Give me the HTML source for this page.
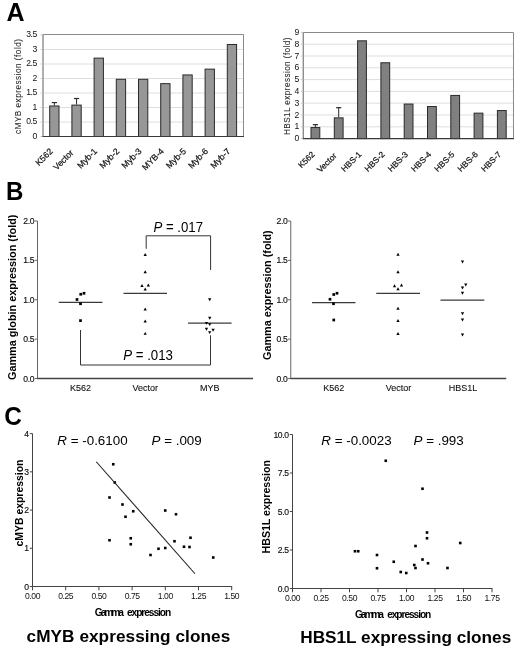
<!DOCTYPE html>
<html><head><meta charset="utf-8"><style>
html,body{margin:0;padding:0;background:#fff;}
body{width:520px;height:648px;overflow:hidden;}
svg{display:block;font-family:"Liberation Sans", sans-serif;filter:grayscale(100%);}
</style></head><body>
<svg width="520" height="648" viewBox="0 0 520 648">
<rect x="0" y="0" width="520" height="648" fill="#fff"/>
<text x="6.6" y="21.3" font-size="25" text-anchor="start" font-weight="bold" fill="#000">A</text>
<text x="5.9" y="199.5" font-size="25.8" text-anchor="start" font-weight="bold" fill="#000" textLength="17.4" lengthAdjust="spacingAndGlyphs">B</text>
<text x="4.2" y="424.5" font-size="26.2" text-anchor="start" font-weight="bold" fill="#000" textLength="17.6" lengthAdjust="spacingAndGlyphs">C</text>
<line x1="43" y1="122.0" x2="243.5" y2="122.0" stroke="#dedede" stroke-width="1"/>
<line x1="43" y1="107.5" x2="243.5" y2="107.5" stroke="#dedede" stroke-width="1"/>
<line x1="43" y1="93.0" x2="243.5" y2="93.0" stroke="#dedede" stroke-width="1"/>
<line x1="43" y1="78.5" x2="243.5" y2="78.5" stroke="#dedede" stroke-width="1"/>
<line x1="43" y1="64.0" x2="243.5" y2="64.0" stroke="#dedede" stroke-width="1"/>
<line x1="43" y1="49.5" x2="243.5" y2="49.5" stroke="#dedede" stroke-width="1"/>
<path d="M243.5 136.5 V34.5 H43" fill="none" stroke="#8a8a8a" stroke-width="1"/>
<line x1="43" y1="136.5" x2="43" y2="34.0" stroke="#8c8c8c" stroke-width="1.4"/>
<line x1="40.5" y1="136.5" x2="43" y2="136.5" stroke="#c8c8c8" stroke-width="1"/>
<line x1="40.5" y1="122.0" x2="43" y2="122.0" stroke="#c8c8c8" stroke-width="1"/>
<line x1="40.5" y1="107.5" x2="43" y2="107.5" stroke="#c8c8c8" stroke-width="1"/>
<line x1="40.5" y1="93.0" x2="43" y2="93.0" stroke="#c8c8c8" stroke-width="1"/>
<line x1="40.5" y1="78.5" x2="43" y2="78.5" stroke="#c8c8c8" stroke-width="1"/>
<line x1="40.5" y1="64.0" x2="43" y2="64.0" stroke="#c8c8c8" stroke-width="1"/>
<line x1="40.5" y1="49.5" x2="43" y2="49.5" stroke="#c8c8c8" stroke-width="1"/>
<line x1="40.5" y1="35.0" x2="43" y2="35.0" stroke="#c8c8c8" stroke-width="1"/>
<rect x="49.7" y="105.97" width="9.3" height="30.53" fill="#979797" stroke="#2a2a2a" stroke-width="1"/>
<rect x="71.9" y="105.1" width="9.3" height="31.4" fill="#979797" stroke="#2a2a2a" stroke-width="1"/>
<rect x="94.1" y="58.12" width="9.3" height="78.38" fill="#979797" stroke="#2a2a2a" stroke-width="1"/>
<rect x="116.3" y="79.29" width="9.3" height="57.21" fill="#979797" stroke="#2a2a2a" stroke-width="1"/>
<rect x="138.5" y="79.29" width="9.3" height="57.21" fill="#979797" stroke="#2a2a2a" stroke-width="1"/>
<rect x="160.7" y="83.64" width="9.3" height="52.86" fill="#979797" stroke="#2a2a2a" stroke-width="1"/>
<rect x="182.9" y="74.94" width="9.3" height="61.56" fill="#979797" stroke="#2a2a2a" stroke-width="1"/>
<rect x="205.1" y="69.14" width="9.3" height="67.36" fill="#979797" stroke="#2a2a2a" stroke-width="1"/>
<rect x="227.3" y="44.49" width="9.3" height="92.01" fill="#979797" stroke="#2a2a2a" stroke-width="1"/>
<line x1="54.35" y1="105.47" x2="54.35" y2="102.57" stroke="#2a2a2a" stroke-width="1"/>
<line x1="51.75" y1="102.57" x2="56.95" y2="102.57" stroke="#2a2a2a" stroke-width="1.2"/>
<line x1="76.55" y1="104.6" x2="76.55" y2="98.51" stroke="#2a2a2a" stroke-width="1"/>
<line x1="73.95" y1="98.51" x2="79.14999999999999" y2="98.51" stroke="#2a2a2a" stroke-width="1.2"/>
<line x1="42.5" y1="136.5" x2="244.0" y2="136.5" stroke="#3a3a3a" stroke-width="1.2"/>
<text x="37.3" y="138.7" font-size="8.6" text-anchor="end" font-weight="normal" fill="#111">0</text>
<text x="36.9" y="124.2" font-size="8.6" text-anchor="end" font-weight="normal" fill="#111" letter-spacing="-0.45">0.5</text>
<text x="37.3" y="109.7" font-size="8.6" text-anchor="end" font-weight="normal" fill="#111">1</text>
<text x="36.9" y="95.2" font-size="8.6" text-anchor="end" font-weight="normal" fill="#111" letter-spacing="-0.45">1.5</text>
<text x="37.3" y="80.7" font-size="8.6" text-anchor="end" font-weight="normal" fill="#111">2</text>
<text x="36.9" y="66.2" font-size="8.6" text-anchor="end" font-weight="normal" fill="#111" letter-spacing="-0.45">2.5</text>
<text x="37.3" y="51.7" font-size="8.6" text-anchor="end" font-weight="normal" fill="#111">3</text>
<text x="36.9" y="37.2" font-size="8.6" text-anchor="end" font-weight="normal" fill="#111" letter-spacing="-0.45">3.5</text>
<text transform="translate(53.35,151.90) rotate(-45)" font-size="8.7" text-anchor="end" fill="#111" stroke="#111" stroke-width="0.22">K562</text>
<text transform="translate(74.05,153.40) rotate(-45)" font-size="8.7" text-anchor="end" fill="#111" stroke="#111" stroke-width="0.22">Vector</text>
<text transform="translate(97.75,151.90) rotate(-45)" font-size="8.7" text-anchor="end" fill="#111" stroke="#111" stroke-width="0.22">Myb-1</text>
<text transform="translate(119.95,151.90) rotate(-45)" font-size="8.7" text-anchor="end" fill="#111" stroke="#111" stroke-width="0.22">Myb-2</text>
<text transform="translate(142.15,151.90) rotate(-45)" font-size="8.7" text-anchor="end" fill="#111" stroke="#111" stroke-width="0.22">Myb-3</text>
<text transform="translate(164.35,151.90) rotate(-45)" font-size="8.7" text-anchor="end" fill="#111" stroke="#111" stroke-width="0.22">MYB-4</text>
<text transform="translate(186.55,151.90) rotate(-45)" font-size="8.7" text-anchor="end" fill="#111" stroke="#111" stroke-width="0.22">Myb-5</text>
<text transform="translate(208.75,151.90) rotate(-45)" font-size="8.7" text-anchor="end" fill="#111" stroke="#111" stroke-width="0.22">Myb-6</text>
<text transform="translate(230.95,151.90) rotate(-45)" font-size="8.7" text-anchor="end" fill="#111" stroke="#111" stroke-width="0.22">Myb-7</text>
<text transform="translate(20.8,134) rotate(-90)" x="0" y="0" font-size="8.2" text-anchor="start" font-weight="normal" fill="#222" textLength="95" lengthAdjust="spacing" stroke="#222" stroke-width="0.05">cMYB expression (fold)</text>
<line x1="303.3" y1="126.8" x2="513.5" y2="126.8" stroke="#dedede" stroke-width="1"/>
<line x1="303.3" y1="115.0" x2="513.5" y2="115.0" stroke="#dedede" stroke-width="1"/>
<line x1="303.3" y1="103.2" x2="513.5" y2="103.2" stroke="#dedede" stroke-width="1"/>
<line x1="303.3" y1="91.4" x2="513.5" y2="91.4" stroke="#dedede" stroke-width="1"/>
<line x1="303.3" y1="79.6" x2="513.5" y2="79.6" stroke="#dedede" stroke-width="1"/>
<line x1="303.3" y1="67.8" x2="513.5" y2="67.8" stroke="#dedede" stroke-width="1"/>
<line x1="303.3" y1="56.0" x2="513.5" y2="56.0" stroke="#dedede" stroke-width="1"/>
<line x1="303.3" y1="44.2" x2="513.5" y2="44.2" stroke="#dedede" stroke-width="1"/>
<path d="M513.5 138.6 V32.5 H303.3" fill="none" stroke="#8a8a8a" stroke-width="1"/>
<line x1="303.3" y1="138.6" x2="303.3" y2="32.0" stroke="#8c8c8c" stroke-width="1.4"/>
<line x1="300.8" y1="138.6" x2="303.3" y2="138.6" stroke="#c8c8c8" stroke-width="1"/>
<line x1="300.8" y1="126.8" x2="303.3" y2="126.8" stroke="#c8c8c8" stroke-width="1"/>
<line x1="300.8" y1="115.0" x2="303.3" y2="115.0" stroke="#c8c8c8" stroke-width="1"/>
<line x1="300.8" y1="103.2" x2="303.3" y2="103.2" stroke="#c8c8c8" stroke-width="1"/>
<line x1="300.8" y1="91.4" x2="303.3" y2="91.4" stroke="#c8c8c8" stroke-width="1"/>
<line x1="300.8" y1="79.6" x2="303.3" y2="79.6" stroke="#c8c8c8" stroke-width="1"/>
<line x1="300.8" y1="67.8" x2="303.3" y2="67.8" stroke="#c8c8c8" stroke-width="1"/>
<line x1="300.8" y1="56.0" x2="303.3" y2="56.0" stroke="#c8c8c8" stroke-width="1"/>
<line x1="300.8" y1="44.2" x2="303.3" y2="44.2" stroke="#c8c8c8" stroke-width="1"/>
<line x1="300.8" y1="32.4" x2="303.3" y2="32.4" stroke="#c8c8c8" stroke-width="1"/>
<rect x="311.0" y="127.54" width="8.8" height="11.06" fill="#808080" stroke="#2a2a2a" stroke-width="1"/>
<rect x="334.3" y="117.86" width="8.8" height="20.74" fill="#808080" stroke="#2a2a2a" stroke-width="1"/>
<rect x="357.6" y="40.81" width="8.8" height="97.79" fill="#808080" stroke="#2a2a2a" stroke-width="1"/>
<rect x="380.9" y="62.75" width="8.8" height="75.85" fill="#808080" stroke="#2a2a2a" stroke-width="1"/>
<rect x="404.2" y="104.05" width="8.8" height="34.55" fill="#808080" stroke="#2a2a2a" stroke-width="1"/>
<rect x="427.5" y="106.53" width="8.8" height="32.07" fill="#808080" stroke="#2a2a2a" stroke-width="1"/>
<rect x="450.8" y="95.44" width="8.8" height="43.16" fill="#808080" stroke="#2a2a2a" stroke-width="1"/>
<rect x="474.1" y="113.14" width="8.8" height="25.46" fill="#808080" stroke="#2a2a2a" stroke-width="1"/>
<rect x="497.4" y="110.54" width="8.8" height="28.06" fill="#808080" stroke="#2a2a2a" stroke-width="1"/>
<line x1="315.4" y1="127.04" x2="315.4" y2="124.68" stroke="#2a2a2a" stroke-width="1"/>
<line x1="312.79999999999995" y1="124.68" x2="318.0" y2="124.68" stroke="#2a2a2a" stroke-width="1.2"/>
<line x1="338.7" y1="117.36" x2="338.7" y2="107.68" stroke="#2a2a2a" stroke-width="1"/>
<line x1="336.09999999999997" y1="107.68" x2="341.3" y2="107.68" stroke="#2a2a2a" stroke-width="1.2"/>
<line x1="302.8" y1="138.6" x2="514.0" y2="138.6" stroke="#3a3a3a" stroke-width="1.2"/>
<text x="299.2" y="141.2" font-size="8.6" text-anchor="end" font-weight="normal" fill="#111">0</text>
<text x="299.2" y="129.4" font-size="8.6" text-anchor="end" font-weight="normal" fill="#111">1</text>
<text x="299.2" y="117.6" font-size="8.6" text-anchor="end" font-weight="normal" fill="#111">2</text>
<text x="299.2" y="105.8" font-size="8.6" text-anchor="end" font-weight="normal" fill="#111">3</text>
<text x="299.2" y="94.0" font-size="8.6" text-anchor="end" font-weight="normal" fill="#111">4</text>
<text x="299.2" y="82.2" font-size="8.6" text-anchor="end" font-weight="normal" fill="#111">5</text>
<text x="299.2" y="70.4" font-size="8.6" text-anchor="end" font-weight="normal" fill="#111">6</text>
<text x="299.2" y="58.6" font-size="8.6" text-anchor="end" font-weight="normal" fill="#111">7</text>
<text x="299.2" y="46.8" font-size="8.6" text-anchor="end" font-weight="normal" fill="#111">8</text>
<text x="299.2" y="35.0" font-size="8.6" text-anchor="end" font-weight="normal" fill="#111">9</text>
<text transform="translate(315.30,154.90) rotate(-45)" font-size="8.3" text-anchor="end" fill="#111" stroke="#111" stroke-width="0.22">K562</text>
<text transform="translate(337.10,156.40) rotate(-45)" font-size="8.3" text-anchor="end" fill="#111" stroke="#111" stroke-width="0.22">Vector</text>
<text transform="translate(361.90,154.90) rotate(-45)" font-size="8.3" text-anchor="end" fill="#111" stroke="#111" stroke-width="0.22">HBS-1</text>
<text transform="translate(385.20,154.90) rotate(-45)" font-size="8.3" text-anchor="end" fill="#111" stroke="#111" stroke-width="0.22">HBS-2</text>
<text transform="translate(408.50,154.90) rotate(-45)" font-size="8.3" text-anchor="end" fill="#111" stroke="#111" stroke-width="0.22">HBS-3</text>
<text transform="translate(431.80,154.90) rotate(-45)" font-size="8.3" text-anchor="end" fill="#111" stroke="#111" stroke-width="0.22">HBS-4</text>
<text transform="translate(455.10,154.90) rotate(-45)" font-size="8.3" text-anchor="end" fill="#111" stroke="#111" stroke-width="0.22">HBS-5</text>
<text transform="translate(478.40,154.90) rotate(-45)" font-size="8.3" text-anchor="end" fill="#111" stroke="#111" stroke-width="0.22">HBS-6</text>
<text transform="translate(501.70,154.90) rotate(-45)" font-size="8.3" text-anchor="end" fill="#111" stroke="#111" stroke-width="0.22">HBS-7</text>
<text transform="translate(290.2,135) rotate(-90)" x="0" y="0" font-size="8.2" text-anchor="start" font-weight="normal" fill="#222" textLength="97.5" lengthAdjust="spacing" stroke="#222" stroke-width="0.05">HBS1L expression (fold)</text>
<line x1="37.5" y1="221.0" x2="37.5" y2="378.5" stroke="#666" stroke-width="1"/>
<line x1="37.0" y1="378.5" x2="253" y2="378.5" stroke="#444" stroke-width="1.4"/>
<line x1="34.8" y1="378.5" x2="37.5" y2="378.5" stroke="#666" stroke-width="1"/>
<text x="34.1" y="381.5" font-size="8.6" text-anchor="end" font-weight="normal" fill="#111" letter-spacing="-0.4" stroke="#111" stroke-width="0.15">0.0</text>
<line x1="34.8" y1="339.12" x2="37.5" y2="339.12" stroke="#666" stroke-width="1"/>
<text x="34.1" y="342.12" font-size="8.6" text-anchor="end" font-weight="normal" fill="#111" letter-spacing="-0.4" stroke="#111" stroke-width="0.15">0.5</text>
<line x1="34.8" y1="299.75" x2="37.5" y2="299.75" stroke="#666" stroke-width="1"/>
<text x="34.1" y="302.75" font-size="8.6" text-anchor="end" font-weight="normal" fill="#111" letter-spacing="-0.4" stroke="#111" stroke-width="0.15">1.0</text>
<line x1="34.8" y1="260.38" x2="37.5" y2="260.38" stroke="#666" stroke-width="1"/>
<text x="34.1" y="263.38" font-size="8.6" text-anchor="end" font-weight="normal" fill="#111" letter-spacing="-0.4" stroke="#111" stroke-width="0.15">1.5</text>
<line x1="34.8" y1="221.0" x2="37.5" y2="221.0" stroke="#666" stroke-width="1"/>
<text x="34.1" y="224.0" font-size="8.6" text-anchor="end" font-weight="normal" fill="#111" letter-spacing="-0.4" stroke="#111" stroke-width="0.15">2.0</text>
<text x="80.5" y="391.1" font-size="9" text-anchor="middle" font-weight="normal" fill="#111" stroke="#111" stroke-width="0.1">K562</text>
<text x="145.2" y="391.1" font-size="9" text-anchor="middle" font-weight="normal" fill="#111" stroke="#111" stroke-width="0.1">Vector</text>
<text x="209.7" y="391.1" font-size="9" text-anchor="middle" font-weight="normal" fill="#111" stroke="#111" stroke-width="0.1">MYB</text>
<line x1="58.75" y1="302.25" x2="102.5" y2="302.25" stroke="#3a3a3a" stroke-width="1.25"/>
<line x1="123.5" y1="293.3" x2="167" y2="293.3" stroke="#3a3a3a" stroke-width="1.25"/>
<line x1="188" y1="323.2" x2="231.6" y2="323.2" stroke="#3a3a3a" stroke-width="1.25"/>
<rect x="75.65" y="298.15" width="2.7" height="2.7" fill="#000"/>
<rect x="79.15" y="302.40" width="2.7" height="2.7" fill="#000"/>
<rect x="79.40" y="292.90" width="2.7" height="2.7" fill="#000"/>
<rect x="82.65" y="291.90" width="2.7" height="2.7" fill="#000"/>
<rect x="79.15" y="319.25" width="2.7" height="2.7" fill="#000"/>
<path d="M143.55 255.94 L146.85 255.94 L145.20 253.06Z" fill="#000"/>
<path d="M143.55 273.24 L146.85 273.24 L145.20 270.36Z" fill="#000"/>
<path d="M140.35 286.94 L143.65 286.94 L142.00 284.06Z" fill="#000"/>
<path d="M146.65 286.44 L149.95 286.44 L148.30 283.56Z" fill="#000"/>
<path d="M143.55 290.44 L146.85 290.44 L145.20 287.56Z" fill="#000"/>
<path d="M143.55 310.44 L146.85 310.44 L145.20 307.56Z" fill="#000"/>
<path d="M143.55 322.44 L146.85 322.44 L145.20 319.56Z" fill="#000"/>
<path d="M143.55 334.84 L146.85 334.84 L145.20 331.96Z" fill="#000"/>
<path d="M208.05 298.26 L211.35 298.26 L209.70 301.14Z" fill="#000"/>
<path d="M208.05 316.76 L211.35 316.76 L209.70 319.64Z" fill="#000"/>
<path d="M204.85 321.96 L208.15 321.96 L206.50 324.84Z" fill="#000"/>
<path d="M208.05 323.16 L211.35 323.16 L209.70 326.04Z" fill="#000"/>
<path d="M204.85 327.76 L208.15 327.76 L206.50 330.64Z" fill="#000"/>
<path d="M211.45 328.76 L214.75 328.76 L213.10 331.64Z" fill="#000"/>
<path d="M208.05 331.16 L211.35 331.16 L209.70 334.04Z" fill="#000"/>
<text transform="translate(15.5,380) rotate(-90)" x="0" y="0" font-size="10.8" text-anchor="start" font-weight="bold" fill="#000" textLength="165.4" lengthAdjust="spacingAndGlyphs">Gamma globin expression (fold)</text>
<line x1="290.75" y1="221.0" x2="290.75" y2="378.5" stroke="#666" stroke-width="1"/>
<line x1="290.25" y1="378.5" x2="506.25" y2="378.5" stroke="#444" stroke-width="1.4"/>
<line x1="288.05" y1="378.5" x2="290.75" y2="378.5" stroke="#666" stroke-width="1"/>
<text x="287.35" y="381.5" font-size="8.6" text-anchor="end" font-weight="normal" fill="#111" letter-spacing="-0.4" stroke="#111" stroke-width="0.15">0.0</text>
<line x1="288.05" y1="339.12" x2="290.75" y2="339.12" stroke="#666" stroke-width="1"/>
<text x="287.35" y="342.12" font-size="8.6" text-anchor="end" font-weight="normal" fill="#111" letter-spacing="-0.4" stroke="#111" stroke-width="0.15">0.5</text>
<line x1="288.05" y1="299.75" x2="290.75" y2="299.75" stroke="#666" stroke-width="1"/>
<text x="287.35" y="302.75" font-size="8.6" text-anchor="end" font-weight="normal" fill="#111" letter-spacing="-0.4" stroke="#111" stroke-width="0.15">1.0</text>
<line x1="288.05" y1="260.38" x2="290.75" y2="260.38" stroke="#666" stroke-width="1"/>
<text x="287.35" y="263.38" font-size="8.6" text-anchor="end" font-weight="normal" fill="#111" letter-spacing="-0.4" stroke="#111" stroke-width="0.15">1.5</text>
<line x1="288.05" y1="221.0" x2="290.75" y2="221.0" stroke="#666" stroke-width="1"/>
<text x="287.35" y="224.0" font-size="8.6" text-anchor="end" font-weight="normal" fill="#111" letter-spacing="-0.4" stroke="#111" stroke-width="0.15">2.0</text>
<text x="333.75" y="391.1" font-size="9" text-anchor="middle" font-weight="normal" fill="#111" stroke="#111" stroke-width="0.1">K562</text>
<text x="398.45" y="391.1" font-size="9" text-anchor="middle" font-weight="normal" fill="#111" stroke="#111" stroke-width="0.1">Vector</text>
<text x="462.95" y="391.1" font-size="9" text-anchor="middle" font-weight="normal" fill="#111" stroke="#111" stroke-width="0.1">HBS1L</text>
<line x1="312" y1="302.5" x2="355.5" y2="302.5" stroke="#3a3a3a" stroke-width="1.25"/>
<line x1="376.25" y1="293.25" x2="420" y2="293.25" stroke="#3a3a3a" stroke-width="1.25"/>
<line x1="440.5" y1="300.2" x2="484.3" y2="300.2" stroke="#3a3a3a" stroke-width="1.25"/>
<rect x="328.65" y="297.90" width="2.7" height="2.7" fill="#000"/>
<rect x="332.15" y="302.40" width="2.7" height="2.7" fill="#000"/>
<rect x="332.40" y="293.15" width="2.7" height="2.7" fill="#000"/>
<rect x="335.65" y="291.90" width="2.7" height="2.7" fill="#000"/>
<rect x="332.40" y="318.65" width="2.7" height="2.7" fill="#000"/>
<path d="M396.35 255.69 L399.65 255.69 L398.00 252.81Z" fill="#000"/>
<path d="M396.35 273.19 L399.65 273.19 L398.00 270.31Z" fill="#000"/>
<path d="M392.85 287.19 L396.15 287.19 L394.50 284.31Z" fill="#000"/>
<path d="M399.85 286.44 L403.15 286.44 L401.50 283.56Z" fill="#000"/>
<path d="M396.35 290.19 L399.65 290.19 L398.00 287.31Z" fill="#000"/>
<path d="M396.35 309.69 L399.65 309.69 L398.00 306.81Z" fill="#000"/>
<path d="M396.35 321.94 L399.65 321.94 L398.00 319.06Z" fill="#000"/>
<path d="M396.35 334.94 L399.65 334.94 L398.00 332.06Z" fill="#000"/>
<path d="M460.85 260.56 L464.15 260.56 L462.50 263.44Z" fill="#000"/>
<path d="M464.10 283.56 L467.40 283.56 L465.75 286.44Z" fill="#000"/>
<path d="M460.85 286.56 L464.15 286.56 L462.50 289.44Z" fill="#000"/>
<path d="M460.85 291.81 L464.15 291.81 L462.50 294.69Z" fill="#000"/>
<path d="M460.85 312.31 L464.15 312.31 L462.50 315.19Z" fill="#000"/>
<path d="M460.85 318.56 L464.15 318.56 L462.50 321.44Z" fill="#000"/>
<path d="M460.85 333.56 L464.15 333.56 L462.50 336.44Z" fill="#000"/>
<text transform="translate(270.5,360) rotate(-90)" x="0" y="0" font-size="10.8" text-anchor="start" font-weight="bold" fill="#000" textLength="129.7" lengthAdjust="spacingAndGlyphs">Gamma expression (fold)</text>
<path d="M146.2 248.75 V235.8 H210.6 V270" fill="none" stroke="#333" stroke-width="1"/>
<path d="M80.5 330 V365 H210.5 V335.3" fill="none" stroke="#333" stroke-width="1"/>
<text x="153.4" y="231.6" font-size="14.3" textLength="49.6" lengthAdjust="spacingAndGlyphs"><tspan font-style="italic">P</tspan> = .017</text>
<text x="123.2" y="359.7" font-size="14.1" textLength="49.8" lengthAdjust="spacingAndGlyphs"><tspan font-style="italic">P</tspan> = .013</text>
<line x1="32.5" y1="433.6" x2="32.5" y2="586.5" stroke="#444" stroke-width="1"/>
<line x1="32.0" y1="586.5" x2="232.20000000000002" y2="586.5" stroke="#444" stroke-width="1"/>
<line x1="29.8" y1="586.5" x2="32.5" y2="586.5" stroke="#444" stroke-width="1"/>
<text x="29" y="589.5" font-size="8.6" text-anchor="end" font-weight="normal" fill="#111" stroke="#111" stroke-width="0.15">0</text>
<line x1="29.8" y1="548.27" x2="32.5" y2="548.27" stroke="#444" stroke-width="1"/>
<text x="29" y="551.27" font-size="8.6" text-anchor="end" font-weight="normal" fill="#111" stroke="#111" stroke-width="0.15">1</text>
<line x1="29.8" y1="510.05" x2="32.5" y2="510.05" stroke="#444" stroke-width="1"/>
<text x="29" y="513.05" font-size="8.6" text-anchor="end" font-weight="normal" fill="#111" stroke="#111" stroke-width="0.15">2</text>
<line x1="29.8" y1="471.83" x2="32.5" y2="471.83" stroke="#444" stroke-width="1"/>
<text x="29" y="474.83" font-size="8.6" text-anchor="end" font-weight="normal" fill="#111" stroke="#111" stroke-width="0.15">3</text>
<line x1="29.8" y1="433.6" x2="32.5" y2="433.6" stroke="#444" stroke-width="1"/>
<text x="29" y="436.6" font-size="8.6" text-anchor="end" font-weight="normal" fill="#111" stroke="#111" stroke-width="0.15">4</text>
<line x1="32.5" y1="586.5" x2="32.5" y2="590.3" stroke="#444" stroke-width="1"/>
<text x="32.5" y="599.1" font-size="8.6" text-anchor="middle" font-weight="normal" fill="#111" letter-spacing="-0.45">0.00</text>
<line x1="65.7" y1="586.5" x2="65.7" y2="590.3" stroke="#444" stroke-width="1"/>
<text x="65.7" y="599.1" font-size="8.6" text-anchor="middle" font-weight="normal" fill="#111" letter-spacing="-0.45">0.25</text>
<line x1="98.9" y1="586.5" x2="98.9" y2="590.3" stroke="#444" stroke-width="1"/>
<text x="98.9" y="599.1" font-size="8.6" text-anchor="middle" font-weight="normal" fill="#111" letter-spacing="-0.45">0.50</text>
<line x1="132.1" y1="586.5" x2="132.1" y2="590.3" stroke="#444" stroke-width="1"/>
<text x="132.1" y="599.1" font-size="8.6" text-anchor="middle" font-weight="normal" fill="#111" letter-spacing="-0.45">0.75</text>
<line x1="165.3" y1="586.5" x2="165.3" y2="590.3" stroke="#444" stroke-width="1"/>
<text x="165.3" y="599.1" font-size="8.6" text-anchor="middle" font-weight="normal" fill="#111" letter-spacing="-0.45">1.00</text>
<line x1="198.5" y1="586.5" x2="198.5" y2="590.3" stroke="#444" stroke-width="1"/>
<text x="198.5" y="599.1" font-size="8.6" text-anchor="middle" font-weight="normal" fill="#111" letter-spacing="-0.45">1.25</text>
<line x1="231.7" y1="586.5" x2="231.7" y2="590.3" stroke="#444" stroke-width="1"/>
<text x="231.7" y="599.1" font-size="8.6" text-anchor="middle" font-weight="normal" fill="#111" letter-spacing="-0.45">1.50</text>
<text transform="translate(23.1,546.5) rotate(-90)" x="0" y="0" font-size="10.5" text-anchor="start" font-weight="bold" fill="#000" textLength="87" lengthAdjust="spacingAndGlyphs">cMYB expression</text>
<text x="94.8" y="616.1" font-size="10.2" text-anchor="start" font-weight="bold" fill="#000" textLength="29.0" lengthAdjust="spacing">Gamma</text>
<text x="127.0" y="616.1" font-size="10.2" text-anchor="start" font-weight="bold" fill="#000" textLength="44.2" lengthAdjust="spacing">expression</text>
<rect x="111.95" y="462.95" width="2.6" height="2.6" fill="#000"/>
<rect x="113.45" y="481.20" width="2.6" height="2.6" fill="#000"/>
<rect x="108.20" y="496.20" width="2.6" height="2.6" fill="#000"/>
<rect x="121.20" y="503.20" width="2.6" height="2.6" fill="#000"/>
<rect x="131.95" y="509.95" width="2.6" height="2.6" fill="#000"/>
<rect x="124.20" y="515.45" width="2.6" height="2.6" fill="#000"/>
<rect x="163.95" y="509.20" width="2.6" height="2.6" fill="#000"/>
<rect x="174.70" y="512.95" width="2.6" height="2.6" fill="#000"/>
<rect x="108.20" y="538.95" width="2.6" height="2.6" fill="#000"/>
<rect x="129.45" y="536.95" width="2.6" height="2.6" fill="#000"/>
<rect x="129.45" y="542.95" width="2.6" height="2.6" fill="#000"/>
<rect x="149.20" y="553.70" width="2.6" height="2.6" fill="#000"/>
<rect x="157.20" y="547.45" width="2.6" height="2.6" fill="#000"/>
<rect x="163.95" y="546.70" width="2.6" height="2.6" fill="#000"/>
<rect x="173.20" y="539.95" width="2.6" height="2.6" fill="#000"/>
<rect x="182.70" y="545.45" width="2.6" height="2.6" fill="#000"/>
<rect x="188.20" y="545.70" width="2.6" height="2.6" fill="#000"/>
<rect x="189.20" y="536.45" width="2.6" height="2.6" fill="#000"/>
<rect x="211.95" y="556.20" width="2.6" height="2.6" fill="#000"/>
<line x1="96.25" y1="461.75" x2="195" y2="573.75" stroke="#222" stroke-width="1.1"/>
<line x1="292.5" y1="434.5" x2="292.5" y2="588.5" stroke="#444" stroke-width="1"/>
<line x1="292.0" y1="588.5" x2="492.5" y2="588.5" stroke="#444" stroke-width="1"/>
<line x1="289.8" y1="588.5" x2="292.5" y2="588.5" stroke="#444" stroke-width="1"/>
<text x="288.6" y="591.5" font-size="8.6" text-anchor="end" font-weight="normal" fill="#111" letter-spacing="-0.4" stroke="#111" stroke-width="0.15">0.0</text>
<line x1="289.8" y1="550.0" x2="292.5" y2="550.0" stroke="#444" stroke-width="1"/>
<text x="288.6" y="553.0" font-size="8.6" text-anchor="end" font-weight="normal" fill="#111" letter-spacing="-0.4" stroke="#111" stroke-width="0.15">2.5</text>
<line x1="289.8" y1="511.5" x2="292.5" y2="511.5" stroke="#444" stroke-width="1"/>
<text x="288.6" y="514.5" font-size="8.6" text-anchor="end" font-weight="normal" fill="#111" letter-spacing="-0.4" stroke="#111" stroke-width="0.15">5.0</text>
<line x1="289.8" y1="473.0" x2="292.5" y2="473.0" stroke="#444" stroke-width="1"/>
<text x="288.6" y="476.0" font-size="8.6" text-anchor="end" font-weight="normal" fill="#111" letter-spacing="-0.4" stroke="#111" stroke-width="0.15">7.5</text>
<line x1="289.8" y1="434.5" x2="292.5" y2="434.5" stroke="#444" stroke-width="1"/>
<text x="288.6" y="437.5" font-size="8.6" text-anchor="end" font-weight="normal" fill="#111" letter-spacing="-0.4" stroke="#111" stroke-width="0.15">10.0</text>
<line x1="292.5" y1="588.5" x2="292.5" y2="592.3" stroke="#444" stroke-width="1"/>
<text x="292.5" y="601.1" font-size="8.6" text-anchor="middle" font-weight="normal" fill="#111" letter-spacing="-0.45">0.00</text>
<line x1="321.0" y1="588.5" x2="321.0" y2="592.3" stroke="#444" stroke-width="1"/>
<text x="321.0" y="601.1" font-size="8.6" text-anchor="middle" font-weight="normal" fill="#111" letter-spacing="-0.45">0.25</text>
<line x1="349.5" y1="588.5" x2="349.5" y2="592.3" stroke="#444" stroke-width="1"/>
<text x="349.5" y="601.1" font-size="8.6" text-anchor="middle" font-weight="normal" fill="#111" letter-spacing="-0.45">0.50</text>
<line x1="378.0" y1="588.5" x2="378.0" y2="592.3" stroke="#444" stroke-width="1"/>
<text x="378.0" y="601.1" font-size="8.6" text-anchor="middle" font-weight="normal" fill="#111" letter-spacing="-0.45">0.75</text>
<line x1="406.5" y1="588.5" x2="406.5" y2="592.3" stroke="#444" stroke-width="1"/>
<text x="406.5" y="601.1" font-size="8.6" text-anchor="middle" font-weight="normal" fill="#111" letter-spacing="-0.45">1.00</text>
<line x1="435.0" y1="588.5" x2="435.0" y2="592.3" stroke="#444" stroke-width="1"/>
<text x="435.0" y="601.1" font-size="8.6" text-anchor="middle" font-weight="normal" fill="#111" letter-spacing="-0.45">1.25</text>
<line x1="463.5" y1="588.5" x2="463.5" y2="592.3" stroke="#444" stroke-width="1"/>
<text x="463.5" y="601.1" font-size="8.6" text-anchor="middle" font-weight="normal" fill="#111" letter-spacing="-0.45">1.50</text>
<line x1="492.0" y1="588.5" x2="492.0" y2="592.3" stroke="#444" stroke-width="1"/>
<text x="492.0" y="601.1" font-size="8.6" text-anchor="middle" font-weight="normal" fill="#111" letter-spacing="-0.45">1.75</text>
<text transform="translate(270,553.4) rotate(-90)" x="0" y="0" font-size="10.5" text-anchor="start" font-weight="bold" fill="#000" textLength="93.4" lengthAdjust="spacingAndGlyphs">HBS1L expression</text>
<text x="355.0" y="617.7" font-size="10.2" text-anchor="start" font-weight="bold" fill="#000" textLength="29.0" lengthAdjust="spacing">Gamma</text>
<text x="387.2" y="617.7" font-size="10.2" text-anchor="start" font-weight="bold" fill="#000" textLength="44.099999999999994" lengthAdjust="spacing">expression</text>
<rect x="384.45" y="459.45" width="2.6" height="2.6" fill="#000"/>
<rect x="421.20" y="487.45" width="2.6" height="2.6" fill="#000"/>
<rect x="425.70" y="531.20" width="2.6" height="2.6" fill="#000"/>
<rect x="425.70" y="536.95" width="2.6" height="2.6" fill="#000"/>
<rect x="458.95" y="541.70" width="2.6" height="2.6" fill="#000"/>
<rect x="414.20" y="544.70" width="2.6" height="2.6" fill="#000"/>
<rect x="353.70" y="549.95" width="2.6" height="2.6" fill="#000"/>
<rect x="356.95" y="549.95" width="2.6" height="2.6" fill="#000"/>
<rect x="375.70" y="553.70" width="2.6" height="2.6" fill="#000"/>
<rect x="392.45" y="560.45" width="2.6" height="2.6" fill="#000"/>
<rect x="421.20" y="558.20" width="2.6" height="2.6" fill="#000"/>
<rect x="412.95" y="563.70" width="2.6" height="2.6" fill="#000"/>
<rect x="414.20" y="566.70" width="2.6" height="2.6" fill="#000"/>
<rect x="426.70" y="561.95" width="2.6" height="2.6" fill="#000"/>
<rect x="375.70" y="566.95" width="2.6" height="2.6" fill="#000"/>
<rect x="446.20" y="566.70" width="2.6" height="2.6" fill="#000"/>
<rect x="399.45" y="570.70" width="2.6" height="2.6" fill="#000"/>
<rect x="404.95" y="571.70" width="2.6" height="2.6" fill="#000"/>
<text x="57.3" y="445" font-size="13.4"><tspan font-style="italic">R</tspan> = -0.6100</text>
<text x="151.5" y="445" font-size="13.4"><tspan font-style="italic">P</tspan> = .009</text>
<text x="321.3" y="445" font-size="13.4"><tspan font-style="italic">R</tspan> = -0.0023</text>
<text x="413.5" y="445" font-size="13.4"><tspan font-style="italic">P</tspan> = .993</text>
<text x="26.6" y="641.6" font-size="17.2" text-anchor="start" font-weight="bold" fill="#000" textLength="203.6" lengthAdjust="spacing">cMYB expressing clones</text>
<text x="300.2" y="642.6" font-size="17.2" text-anchor="start" font-weight="bold" fill="#000" textLength="211" lengthAdjust="spacing">HBS1L expressing clones</text>
</svg>
</body></html>
